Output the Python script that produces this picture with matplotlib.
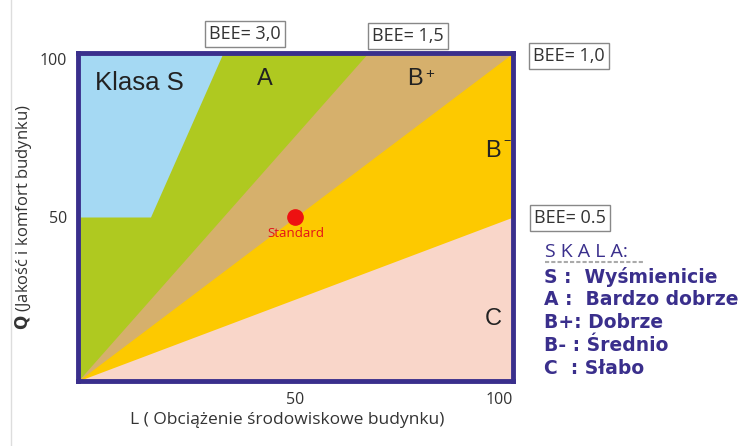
import numpy as np
import matplotlib
matplotlib.use("Agg")
import matplotlib.pyplot as plt
from matplotlib.lines import Line2D

plt.rcParams['font.family'] = ['Liberation Sans', 'DejaVu Sans']

# chart data
bee_values = [3.0, 1.5, 1.0, 0.5]
bee_labels = ["BEE= 3,0", "BEE= 1,5", "BEE= 1,0", "BEE= 0.5"]
s_threshold = 50
ticks = [50, 100]
standard = (50, 50)
legend_items = ["S :  Wyśmienicie", "A :  Bardzo dobrze", "B+: Dobrze",
                "B- : Średnio", "C  : Słabo"]

navy = "#3a2f8c"
c_pink = "#f9d6c9"
c_yellow = "#fdc900"
c_tan = "#d6b06c"
c_green = "#afc920"
c_blue = "#a5d9f3"

fig = plt.figure(figsize=(7.39, 4.46), dpi=100)
ax = fig.add_axes([78/739, 1-381/446, 435/739, 328/446])
ax.set_xlim(0, 100)
ax.set_ylim(0, 100)

def above_line(bee):
    xs = np.array(sorted({0.0, min(100.0, 100.0/bee), 100.0}))
    return xs, np.minimum(bee*xs, 100)

ax.fill_between([0, 100], 0, 100, color=c_pink, lw=0)
for bee, col in zip(bee_values[1:][::-1], [c_yellow, c_tan, c_green]):
    xs, lo = above_line(bee)
    ax.fill_between(xs, lo, 100, color=col, lw=0)
xs = np.array([0, s_threshold/bee_values[0], 100/bee_values[0]])
ax.fill_between(xs, np.maximum(bee_values[0]*xs, s_threshold), 100,
                color=c_blue, lw=0)

ax.plot(*standard, 'o', color="#ee1111", ms=11, zorder=5)
ax.text(standard[0], standard[1]-3, "Standard", color="#e3101a", fontsize=9.5,
        ha='center', va='top', family='Open Sans')

for s in ax.spines.values():
    s.set_color(navy)
    s.set_linewidth(3.5)

ax.set_xticks(ticks)
ax.set_yticks(ticks)
ax.tick_params(length=0, labelsize=11.5, colors="#333333", pad=8)
for lab in ax.get_xticklabels() + ax.get_yticklabels():
    lab.set_family('Open Sans')
ax.get_xticklabels()[1].set_horizontalalignment('right')
ax.get_yticklabels()[1].set_verticalalignment('top')

ax.set_xlabel("L ( Obciążenie środowiskowe budynku)", fontsize=12.5,
              color="#333333", family='Open Sans')
ax.xaxis.set_label_coords(0.48, -0.095)
ax.set_ylabel(r"$\mathbf{Q}$ (Jakość i komfort budynku)", fontsize=12,
              color="#333333", family='Open Sans')
ax.yaxis.set_label_coords(-0.1, 0.5)

# region labels
ax.text(4, 91, "Klasa S", fontsize=18.5, color="#222222", va='center')
ax.text(43, 92, "A", fontsize=17, color="#222222", ha='center', va='center')
ax.text(77.5, 92, "B", fontsize=17, color="#222222", ha='center', va='center')
ax.text(80.8, 93.5, "+", fontsize=11, color="#222222", ha='center', va='center')
ax.text(95.5, 70, "B", fontsize=17, color="#222222", ha='center', va='center')
ax.text(98.6, 72.8, "−", fontsize=9, color="#222222", ha='center', va='center')
ax.text(95.5, 19, "C", fontsize=17, color="#222222", ha='center', va='center')

# BEE boxes
box = dict(boxstyle='square,pad=0.22', fc='white', ec='#888888', lw=1)
bee_pos = [(245, 34), (408, 36), (569, 56), (570, 218)]
for (px, py), lab in zip(bee_pos, bee_labels):
    fig.text(px/739, 1-py/446, lab, fontsize=13, color="#333333",
             ha='center', va='center', bbox=box, family='Open Sans')

# legend
fig.text(545/739, 1-252/446, "S K A L A:", fontsize=14, color=navy,
         va='center', family='Open Sans')
fig.add_artist(Line2D([545/739, 643/739], [1-262/446]*2, color="#aaaaaa",
                      lw=1.5, ls=(0, (2, 1))))
for i, item in enumerate(legend_items):
    fig.text(544/739, 1-(277+22.8*i)/446, item, fontsize=13.5, color=navy,
             fontweight='bold', va='center', family='DejaVu Sans')

fig.add_artist(Line2D([11/739]*2, [0, 1], color="#dddddd", lw=1))

fig.savefig("out.png", dpi=100)
